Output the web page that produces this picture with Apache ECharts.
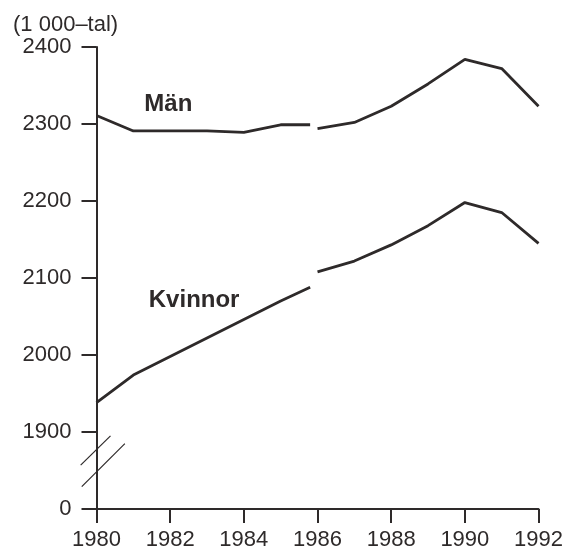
<!DOCTYPE html>
<html>
<head>
<meta charset="utf-8">
<script src="https://cdn.jsdelivr.net/npm/echarts@6/dist/echarts.min.js"></script>
<style>
  html, body { margin: 0; padding: 0; background: #fff; }
  #chart { width: 566px; height: 552px; }
</style>
</head>
<body>
<div id="chart"></div>
<script>
// old series (before break) and new series (from 1986)
const yearsOld = [1980, 1981, 1982, 1983, 1984, 1985, 1985.8];
const manOld = [2311, 2291, 2291, 2291, 2289, 2299, 2299];
const kvinnorOld = [1938, 1974, 1998, 2022, 2046, 2070, 2088];

const yearsNew = [1986, 1987, 1988, 1989, 1990, 1991, 1992];
const manNew = [2294, 2302, 2323, 2352, 2384, 2372, 2323];
const kvinnorNew = [2108, 2122, 2143, 2168, 2198, 2185, 2145];

const yTicks = [1800, 1900, 2000, 2100, 2200, 2300, 2400];
const yTickText = ['0', '1900', '2000', '2100', '2200', '2300', '2400'];

const ink = '#2e2a2a';
const font = 'Liberation Sans';

const pairs = (xs, ys) => xs.map((x, i) => [x, ys[i]]);

const lineSeries = (name, xs, ys) => ({
  name: name,
  type: 'line',
  data: pairs(xs, ys),
  symbol: 'none',
  lineStyle: { color: ink, width: 2.8 },
  z: 3
});

const chart = echarts.init(document.getElementById('chart'));

const option = {
  backgroundColor: '#fff',
  animation: false,
  title: {
    text: '(1 000–tal)',
    left: 8,
    top: 9,
    textStyle: { fontFamily: font, fontSize: 22, fontWeight: 'normal', color: ink }
  },
  grid: { left: 96.5, right: 25.5, top: 47, bottom: 43 },
  xAxis: {
    type: 'value',
    min: 1980,
    max: 1992,
    interval: 2,
    axisLine: { lineStyle: { color: ink, width: 2 } },
    axisTick: { show: true, length: 14, lineStyle: { color: ink, width: 2 } },
    axisLabel: {
      margin: 20,
      fontFamily: font,
      fontSize: 22,
      color: ink,
      formatter: v => String(v)
    },
    splitLine: { show: false }
  },
  yAxis: {
    type: 'value',
    min: 1800,
    max: 2400,
    interval: 100,
    axisLine: { show: true, lineStyle: { color: ink, width: 2 } },
    axisTick: { show: true, length: 15, lineStyle: { color: ink, width: 2 } },
    axisLabel: {
      margin: 25,
      fontFamily: font,
      fontSize: 22,
      color: ink,
      formatter: v => yTickText[yTicks.indexOf(v)]
    },
    splitLine: { show: false }
  },
  series: [
    lineSeries('Män', yearsOld, manOld),
    lineSeries('Män', yearsNew, manNew),
    lineSeries('Kvinnor', yearsOld, kvinnorOld),
    lineSeries('Kvinnor', yearsNew, kvinnorNew)
  ]
};
chart.setOption(option);

// series labels and axis break marks, placed in data coordinates
const px = (x, y) => chart.convertToPixel({ gridIndex: 0 }, [x, y]);
const textAt = (str, x, y) => {
  const p = px(x, y);
  return {
    type: 'text', x: p[0], y: p[1], z: 10,
    style: { text: str, fill: ink, font: 'bold 24px "' + font + '"', align: 'center', verticalAlign: 'middle' }
  };
};
const slash = (x1, y1, x2, y2) => {
  const a = px(x1, y1), b = px(x2, y2);
  return {
    type: 'line', z: 10,
    shape: { x1: a[0], y1: a[1], x2: b[0], y2: b[1] },
    style: { stroke: ink, lineWidth: 1.2 }
  };
};

chart.setOption({
  graphic: [
    textAt('Män', 1981.95, 2325),
    textAt('Kvinnor', 1982.65, 2071),
    slash(1979.57, 1857, 1980.38, 1895),
    slash(1979.6, 1829, 1980.77, 1885)
  ]
});
</script>
</body>
</html>
